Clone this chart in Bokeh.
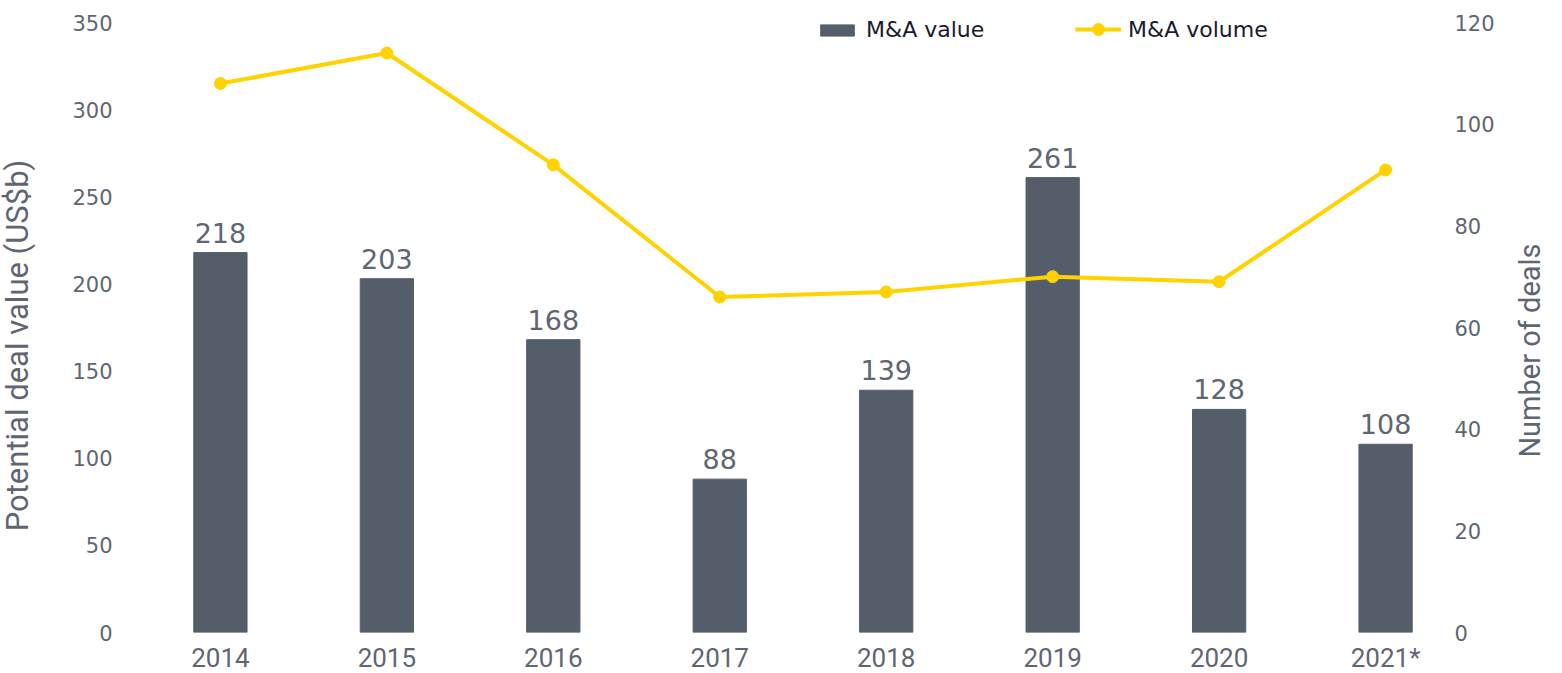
import math
from bokeh.plotting import figure
from bokeh.models import Range1d, LinearAxis, FixedTicker, ColumnDataSource, Legend, LegendItem, Label
from bokeh.embed import file_html
from bokeh.resources import INLINE
from bokeh.core.properties import value

years = ["2014", "2015", "2016", "2017", "2018", "2019", "2020", "2021*"]
ma_value = [218, 203, 168, 88, 139, 261, 128, 108]
ma_volume = [108, 114, 92, 66, 67, 70, 69, 91]
left_ticks = [0, 50, 100, 150, 200, 250, 300, 350]
right_ticks = [0, 20, 40, 60, 80, 100, 120]
left_title = "Potential deal value (US$b)"
right_title = "Number of deals"

BAR = "#545e6b"
YEL = "#ffd200"
GRAY = "#5f6672"
TICKFONT = "DejaVu Sans"
NARROW = "Roboto"

EXTRA_PX = 12
PLOT_PX = 610
FRAME_W = 1290
X0, X1 = -0.42, 7.33
left_end = left_ticks[-1] * (PLOT_PX + EXTRA_PX) / PLOT_PX
right_end = right_ticks[-1] * (PLOT_PX + EXTRA_PX) / PLOT_PX

idx = list(range(len(years)))
src = ColumnDataSource(dict(x=idx, v=ma_value, vol=ma_volume,
                            lab=[str(v) for v in ma_value]))

p = figure(frame_width=FRAME_W, frame_height=PLOT_PX + EXTRA_PX, output_backend="svg",
           toolbar_location=None, x_range=Range1d(X0, X1),
           y_range=Range1d(0, left_end), min_border_left=150, min_border_right=110,
           min_border_top=22 - EXTRA_PX, min_border_bottom=35)
p.outline_line_color = None
p.grid.visible = False
p.extra_y_ranges = {"vol": Range1d(0, right_end)}

bars = p.vbar(x="x", top="v", width=0.32, color=BAR, source=src)
p.text(x="x", y="v", text="lab", source=src, text_align="center",
       text_baseline="bottom", y_offset=-10, text_color=GRAY,
       text_font=value(TICKFONT), text_font_size="27px")

ln = p.line(x="x", y="vol", y_range_name="vol", color=YEL, line_width=4, source=src)
sc = p.scatter(x="x", y="vol", y_range_name="vol", color=YEL, size=12, source=src)

xa = p.xaxis[0]
xa.ticker = FixedTicker(ticks=idx)
xa.major_label_overrides = {i: y for i, y in enumerate(years)}
ya = p.yaxis[0]
ya.ticker = FixedTicker(ticks=left_ticks)

ra = LinearAxis(y_range_name="vol", ticker=FixedTicker(ticks=right_ticks))
p.add_layout(ra, "right")

for ax in [xa, ya, ra]:
    ax.axis_line_color = None
    ax.major_tick_line_color = None
    ax.minor_tick_line_color = None
    ax.major_label_text_color = GRAY
ya.major_label_text_font = TICKFONT
ra.major_label_text_font = TICKFONT
ya.major_label_text_font_size = "21px"
ra.major_label_text_font_size = "21px"
xa.major_label_text_font = NARROW
xa.major_label_text_font_size = "26px"
xa.major_label_standoff = 4
ya.major_label_standoff = 32
ra.major_label_standoff = 8

# axis titles as labels in the side panels, both reading bottom-to-top
p.add_layout(Label(x=-15, y=287, x_units="screen", y_units="screen",
                   text=left_title, angle=math.pi / 2, text_align="center",
                   text_baseline="middle", text_font=NARROW, text_font_size="31px",
                   text_color=GRAY), "left")
p.add_layout(Label(x=32, y=282, x_units="screen", y_units="screen",
                   text=right_title, angle=math.pi / 2, text_align="center",
                   text_baseline="middle", text_font=NARROW, text_font_size="29px",
                   text_color=GRAY), "right")

leg1 = Legend(items=[LegendItem(label="M&A value", renderers=[bars])],
              location=(666, 590), background_fill_alpha=0, border_line_color=None,
              label_text_font=TICKFONT, label_text_font_size="22px",
              label_text_color="#1a1a2e", glyph_width=42, glyph_height=14,
              padding=0, margin=0, label_standoff=8)
leg2 = Legend(items=[LegendItem(label="M&A volume", renderers=[ln, sc])],
              location=(925, 588), background_fill_alpha=0, border_line_color=None,
              label_text_font=TICKFONT, label_text_font_size="22px",
              label_text_color="#1a1a2e", glyph_width=46, glyph_height=30,
              padding=0, margin=0, label_standoff=7)
p.add_layout(leg1)
p.add_layout(leg2)

open("out.html", "w").write(file_html(p, INLINE))
